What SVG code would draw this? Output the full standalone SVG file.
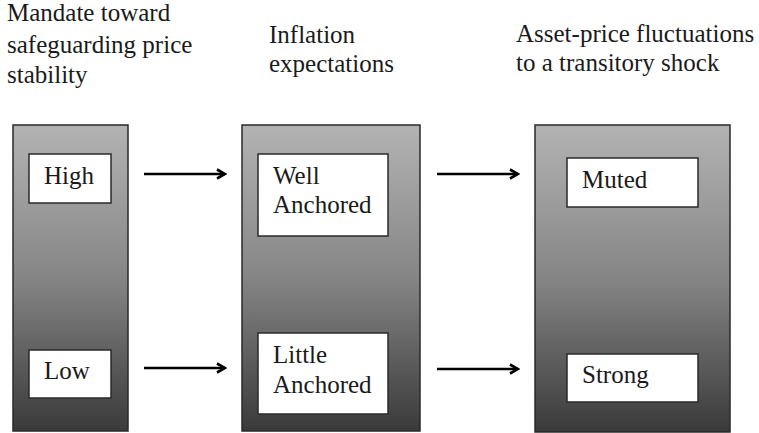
<svg xmlns="http://www.w3.org/2000/svg" width="759" height="433" viewBox="0 0 759 433">
<defs>
<linearGradient id="g" x1="0" y1="0" x2="0" y2="1">
<stop offset="0" stop-color="#b3b3b3"/>
<stop offset="0.5" stop-color="#858585"/>
<stop offset="1" stop-color="#3a3a3a"/>
</linearGradient>
<marker id="ah" viewBox="0 0 12 12" refX="10" refY="6" markerWidth="12" markerHeight="12" markerUnits="userSpaceOnUse" orient="auto">
<path d="M2,1.5 L10,6 L2,10.5" fill="none" stroke="#000" stroke-width="2.6"/>
</marker>
</defs>
<rect width="759" height="433" fill="#fff"/>
<g id="headers" font-family="Liberation Serif, serif" font-size="25" fill="#1a1a1a">
<text x="7" y="21">Mandate toward</text>
<text x="7" y="53">safeguarding price</text>
<text x="7" y="83">stability</text>
<text x="269" y="43">Inflation</text>
<text x="269" y="72">expectations</text>
<text x="516" y="42">Asset-price fluctuations</text>
<text x="516" y="71">to a transitory shock</text>
</g>
<g fill="url(#g)" stroke="#2a2a2a" stroke-width="1.5">
<g id="panel-mandate"><rect x="13" y="125" width="115" height="306"/></g>
<g id="panel-inflation"><rect x="242" y="125" width="178" height="306"/></g>
<g id="panel-asset"><rect x="535" y="125" width="195" height="307"/></g>
</g>
<g font-family="Liberation Serif, serif" font-size="25">
<g id="node-high"><rect x="29" y="154" width="82" height="49" fill="#fff" stroke="#2a2a2a" stroke-width="1.5"/><text x="44" y="184" fill="#1a1a1a">High</text></g>
<g id="node-low"><rect x="29" y="350" width="82" height="48" fill="#fff" stroke="#2a2a2a" stroke-width="1.5"/><text x="44" y="379" fill="#1a1a1a">Low</text></g>
<g id="node-well"><rect x="258" y="154" width="130" height="82" fill="#fff" stroke="#2a2a2a" stroke-width="1.5"/><text x="273" y="184" fill="#1a1a1a">Well</text><text x="273" y="213" fill="#1a1a1a">Anchored</text></g>
<g id="node-little"><rect x="258" y="333" width="130" height="81" fill="#fff" stroke="#2a2a2a" stroke-width="1.5"/><text x="273" y="363" fill="#1a1a1a">Little</text><text x="273" y="393" fill="#1a1a1a">Anchored</text></g>
<g id="node-muted"><rect x="567" y="158" width="131" height="49" fill="#fff" stroke="#2a2a2a" stroke-width="1.5"/><text x="582" y="188" fill="#1a1a1a">Muted</text></g>
<g id="node-strong"><rect x="567" y="354" width="131" height="48" fill="#fff" stroke="#2a2a2a" stroke-width="1.5"/><text x="582" y="383" fill="#1a1a1a">Strong</text></g>
</g>
<g id="connectors" stroke="#000" stroke-width="2.6" fill="none" marker-end="url(#ah)">
<line x1="144" y1="174" x2="225" y2="174"/>
<line x1="437" y1="174" x2="518" y2="174"/>
<line x1="144" y1="368" x2="225" y2="368"/>
<line x1="437" y1="369" x2="518" y2="369"/>
</g>
</svg>
